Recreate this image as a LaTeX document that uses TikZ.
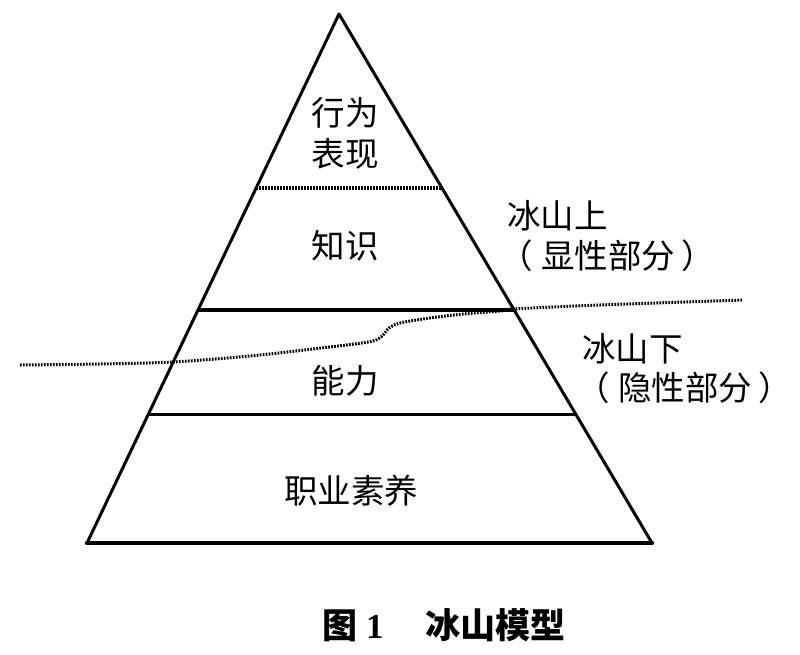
\documentclass[tikz,border=0pt]{standalone}
\usepackage{fontspec}
\newfontfamily\cjk{Noto Sans CJK SC}
\newfontfamily\lserif{Liberation Serif}
\usetikzlibrary{calc}
\begin{document}
\begin{tikzpicture}[x=1pt,y=-1pt,
  edge/.style={line width=3pt,line join=round,line cap=round},
  layer/.style={font=\cjk\fontsize{33.5}{41}\selectfont,align=center,inner sep=0pt},
  side/.style={font=\cjk\fontsize{33.5}{40}\selectfont,align=left,inner sep=0pt,anchor=west},
  waterline/.style={line width=3pt,dash pattern=on 1.7pt off 1.3pt}]
\useasboundingbox (0,0) rectangle (800,654);
\coordinate (A) at (339,14);
\coordinate (B) at (87,543);
\coordinate (C) at (652,543);
% layer lines
\draw[line width=3.6pt,dash pattern=on 2.2pt off 0.8pt] ($(A)!0.329!(B)$) -- ($(A)!0.329!(C)$);
\draw[line width=3.6pt] ($(A)!0.5595!(B)$) -- ($(A)!0.5595!(C)$);
\draw[line width=3pt] ($(A)!0.758!(B)$) -- ($(A)!0.758!(C)$);
% triangle
\draw[edge] (B) -- (A) -- (C);
\draw[line width=4.5pt,line cap=round] (B) -- (C);
% waterline
\draw[waterline] plot[smooth,tension=0.5] coordinates {(20,365) (100,364) (173,362) (250,356) (313,349) (368,342) (381,337) (389,328) (400,323) (430,318) (463,314) (500,311) (513,309) (600,305) (743,300)};
% labels
\node[layer] (xw) at (345,133) {行为\\表现};
\node[layer] (zs) at (345,246) {知识};
\node[layer] (nl) at (345,381) {能力};
\node[layer] (zy) at (351,491) {职业素养};
\node[side] (up) at (507,216) {冰山上};
\node[side] (upx) at (499,256) {（\hspace{0.25em}显性部分\hspace{0.2em}）};
\node[side] (dn) at (582,349) {冰山下};
\node[side] (dnx) at (576,388) {（\hspace{0.25em}隐性部分\hspace{0.2em}）};
\node[font=\cjk\bfseries\fontsize{35}{40}\selectfont,inner sep=0pt] (cap) at (444,625) {图{\lserif\bfseries\ 1}\hspace{1.2em}冰山模型};
\end{tikzpicture}
\end{document}
